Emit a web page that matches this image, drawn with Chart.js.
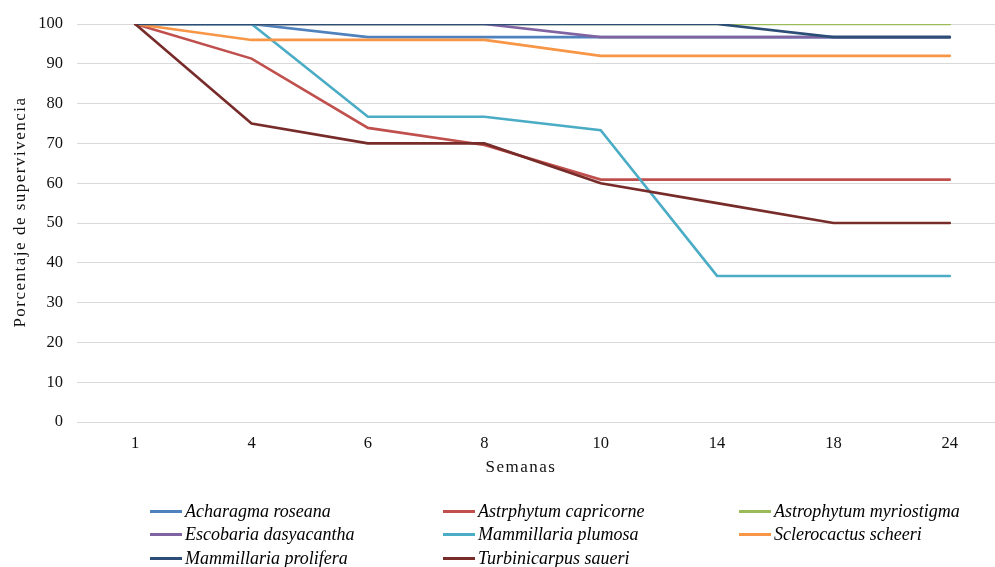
<!DOCTYPE html>
<html>
<head>
<meta charset="utf-8">
<script src="https://cdn.jsdelivr.net/npm/chart.js@4/dist/chart.umd.min.js"></script>
<style>
  html, body { margin: 0; padding: 0; background: #fff; }
  #wrap { position: relative; width: 995px; height: 567px; overflow: hidden; background: #fff; }
  #c { position: absolute; left: 0; top: 0; }
  .overlay {
    position: absolute; left: 0; top: 0; width: 995px; height: 567px;
    font-family: "Liberation Serif", "Times New Roman", serif; color: #111;
  }
  #legend { font-style: italic; font-size: 18px; color: #000; }
  .item { position: absolute; height: 22px; display: flex; align-items: center; white-space: nowrap; }
  .swatch { width: 32px; height: 3px; margin-right: 3px; flex: none; }
  .axis-title { position: absolute; font-size: 17px; letter-spacing: 1.5px; white-space: nowrap; line-height: 20px; }
  #xTitle { transform: translate(-50%, -50%); }
  #yTitle { transform: translate(-50%, -50%) rotate(-90deg); }
</style>
</head>
<body>
<div id="wrap">
  <canvas id="c" width="1012" height="478"></canvas>
  <div class="overlay" id="titles">
    <div class="axis-title" id="xTitle" style="left:521px; top:467px;">Semanas</div>
    <div class="axis-title" id="yTitle" style="left:20px; top:212px;">Porcentaje de supervivencia</div>
  </div>
  <div class="overlay" id="legend"></div>
</div>
<script>
// Weeks after transplant
const weeks = ['1', '4', '6', '8', '10', '14', '18', '24'];

// Survival percentage per species
const acharagmaRoseana       = [100, 100, 96.7, 96.7, 96.7, 96.7, 96.7, 96.7];
const astrphytumCapricorne   = [100, 91.3, 73.9, 69.6, 60.9, 60.9, 60.9, 60.9];
const astrophytumMyriostigma = [100, 100, 100, 100, 100, 100, 100, 100];
const escobariaDasyacantha   = [100, 100, 100, 100, 96.7, 96.7, 96.7, 96.7];
const mammillariaPlumosa     = [100, 100, 76.7, 76.7, 73.3, 36.7, 36.7, 36.7];
const sclerocactusScheeri    = [100, 96, 96, 96, 92, 92, 92, 92];
const mammillariaProlifera   = [100, 100, 100, 100, 100, 100, 96.7, 96.7];
const turbinicarpusSaueri    = [100, 75, 70, 70, 60, 55, 50, 50];

const speciesNames = [
  'Acharagma roseana', 'Astrphytum capricorne', 'Astrophytum myriostigma',
  'Escobaria dasyacantha', 'Mammillaria plumosa', 'Sclerocactus scheeri',
  'Mammillaria prolifera', 'Turbinicarpus saueri'
];
const speciesValues = [
  acharagmaRoseana, astrphytumCapricorne, astrophytumMyriostigma,
  escobariaDasyacantha, mammillariaPlumosa, sclerocactusScheeri,
  mammillariaProlifera, turbinicarpusSaueri
];
const speciesColors = [
  '#4F81BD', '#C0504D', '#9BBB59', '#8064A2',
  '#4BACC6', '#F79646', '#2C4D75', '#772C2A'
];

const yTicks = [0, 10, 20, 30, 40, 50, 60, 70, 80, 90, 100];

const serif = '"Liberation Serif", "Times New Roman", serif';
const textColor = '#111';

const datasets = speciesNames.map((name, i) => ({
  label: name,
  data: speciesValues[i],
  borderColor: speciesColors[i],
  backgroundColor: speciesColors[i],
  borderWidth: 2.6,
  pointRadius: 0,
  pointHoverRadius: 0,
  tension: 0,
  fill: false,
  borderCapStyle: 'round',
  // later series are painted over earlier ones
  order: speciesNames.length - i
}));

const chart = new Chart(document.getElementById('c'), {
  type: 'line',
  data: { labels: weeks, datasets },
  options: {
    responsive: false,
    animation: false,
    events: [],
    layout: { padding: { top: 24, right: 4, left: 0, bottom: 0 } },
    plugins: {
      legend: { display: false },
      tooltip: { enabled: false }
    },
    scales: {
      x: {
        type: 'category',
        offset: true,
        grid: { display: false, drawTicks: false },
        border: { display: false },
        ticks: {
          padding: 12,
          color: textColor,
          font: { family: serif, size: 16.5 },
          maxRotation: 0,
          autoSkip: false
        },
        afterFit: (s) => { s.height = 56; }
      },
      y: {
        min: 0,
        max: 100,
        afterBuildTicks: (s) => { s.ticks = yTicks.map(v => ({ value: v })); },
        grid: { color: '#D9D9D9', lineWidth: 1, drawTicks: false },
        border: { display: false },
        ticks: {
          padding: 14,
          color: textColor,
          font: { family: serif, size: 16.5 }
        },
        afterFit: (s) => { s.width = 77; }
      }
    }
  }
});

// Three-column legend below the plot
const legendCols = [150, 443, 739];
const legendRows = [511, 534.5, 558];
const legendEl = document.getElementById('legend');
chart.data.datasets.forEach((ds, i) => {
  const item = document.createElement('div');
  item.className = 'item';
  item.style.left = legendCols[i % 3] + 'px';
  item.style.top = (legendRows[Math.floor(i / 3)] - 11) + 'px';
  const sw = document.createElement('span');
  sw.className = 'swatch';
  sw.style.background = ds.borderColor;
  const tx = document.createElement('span');
  tx.textContent = ds.label;
  item.appendChild(sw);
  item.appendChild(tx);
  legendEl.appendChild(item);
});
</script>
</body>
</html>
